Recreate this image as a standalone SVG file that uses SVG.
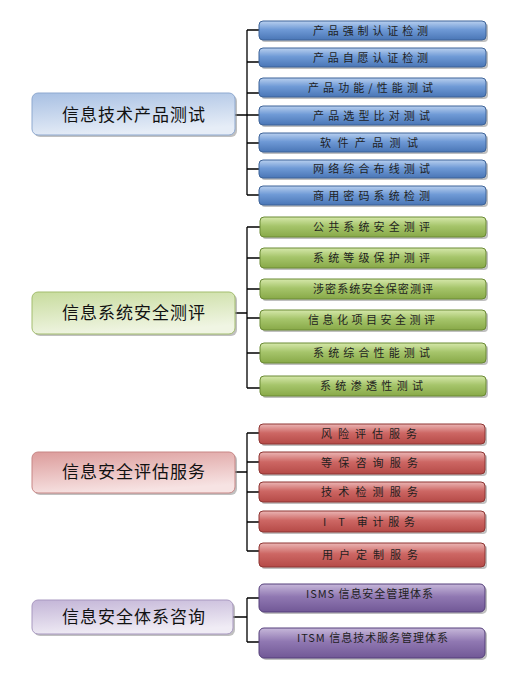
<svg xmlns="http://www.w3.org/2000/svg" width="530" height="675" viewBox="0 0 530 675">
<defs>
<linearGradient id="gB" x1="0" y1="0" x2="0" y2="1"><stop offset="0" stop-color="#b9d0ef"/><stop offset="0.45" stop-color="#6f9ad6"/><stop offset="1" stop-color="#4a76b6"/></linearGradient>
<linearGradient id="gG" x1="0" y1="0" x2="0" y2="1"><stop offset="0" stop-color="#d6e8ab"/><stop offset="0.45" stop-color="#a6c56b"/><stop offset="1" stop-color="#88a948"/></linearGradient>
<linearGradient id="gR" x1="0" y1="0" x2="0" y2="1"><stop offset="0" stop-color="#ebb6b5"/><stop offset="0.45" stop-color="#cd6764"/><stop offset="1" stop-color="#b54a47"/></linearGradient>
<linearGradient id="gP" x1="0" y1="0" x2="0" y2="1"><stop offset="0" stop-color="#c7b8da"/><stop offset="0.45" stop-color="#9078b2"/><stop offset="1" stop-color="#715896"/></linearGradient>
<linearGradient id="mB" x1="0" y1="0" x2="0.3" y2="1"><stop offset="0" stop-color="#a8c0e3"/><stop offset="1" stop-color="#e6edf7"/></linearGradient>
<linearGradient id="mG" x1="0" y1="0" x2="0.3" y2="1"><stop offset="0" stop-color="#c8dc9e"/><stop offset="1" stop-color="#f0f5e3"/></linearGradient>
<linearGradient id="mR" x1="0" y1="0" x2="0.3" y2="1"><stop offset="0" stop-color="#dc9c9b"/><stop offset="1" stop-color="#f7e3e3"/></linearGradient>
<linearGradient id="mP" x1="0" y1="0" x2="0.3" y2="1"><stop offset="0" stop-color="#c3b5d7"/><stop offset="1" stop-color="#f0ecf5"/></linearGradient>
</defs>
<style>
.sh{fill:#8c8c8c;opacity:0.55}
.sub{stroke-width:1}
.b{fill:url(#gB);stroke:#3d6398}
.g{fill:url(#gG);stroke:#6a8a34}
.r{fill:url(#gR);stroke:#8e3532}
.p{fill:url(#gP);stroke:#553f7a}
.mb{fill:url(#mB);stroke:#8ea9d0}
.mg{fill:url(#mG);stroke:#a3bd6e}
.mr{fill:url(#mR);stroke:#c88685}
.mp{fill:url(#mP);stroke:#a898c0}
.st{font-family:"Noto Sans CJK SC","Liberation Sans",sans-serif;font-size:11px;fill:#1e1e1e}
.mt{font-family:"Noto Sans CJK SC",sans-serif;font-size:17px;fill:#111}
.ln{stroke:#000;stroke-width:1.3;fill:none}
</style>

<g id="connectors">
<path class="ln" d="M235 115H247M247 30V195M247 30H259M247 62H259M247 93H259M247 115H259M247 143H259M247 169H259M247 195H259"/>
<path class="ln" d="M235 313H247M247 227V388M247 227H260M247 258H260M247 289H260M247 318H260M247 353H260M247 388H260"/>
<path class="ln" d="M235 472H247M247 433V551M247 433H259M247 462H259M247 492H259M247 522H259M247 551H259"/>
<path class="ln" d="M233 617H247M247 598V642M247 598H259M247 642H259"/>
</g>

<g id="main1"><rect class="sh" x="34" y="95" width="203" height="42" rx="6"/><rect class="mb" x="32" y="93" width="203" height="42" rx="6"/><text class="mt" x="62" y="121" textLength="143" lengthAdjust="spacing">信息技术产品测试</text></g>
<g id="main2"><rect class="sh" x="34" y="294" width="203" height="42" rx="6"/><rect class="mg" x="32" y="292" width="203" height="42" rx="6"/><text class="mt" x="62" y="319" textLength="143" lengthAdjust="spacing">信息系统安全测评</text></g>
<g id="main3"><rect class="sh" x="34" y="454" width="203" height="41" rx="6"/><rect class="mr" x="32" y="452" width="203" height="41" rx="6"/><text class="mt" x="62" y="478" textLength="143" lengthAdjust="spacing">信息安全评估服务</text></g>
<g id="main4"><rect class="sh" x="34" y="602" width="201" height="34" rx="6"/><rect class="mp" x="32" y="600" width="201" height="34" rx="6"/><text class="mt" x="62" y="623" textLength="143" lengthAdjust="spacing">信息安全体系咨询</text></g>

<g id="b1"><rect class="sh" x="261" y="23" width="227" height="19" rx="4"/><rect class="b" x="259" y="21" width="227" height="19" rx="4"/><text class="st" x="313" y="34.5" textLength="115" lengthAdjust="spacing">产品强制认证检测</text></g>
<g id="b2"><rect class="sh" x="261" y="50" width="227" height="19" rx="4"/><rect class="b" x="259" y="48" width="227" height="19" rx="4"/><text class="st" x="313" y="61.5" textLength="115" lengthAdjust="spacing">产品自愿认证检测</text></g>
<g id="b3"><rect class="sh" x="261" y="80" width="227" height="19" rx="4"/><rect class="b" x="259" y="78" width="227" height="19" rx="4"/><text class="st" x="308" y="91.5" textLength="125" lengthAdjust="spacing">产品功能/性能测试</text></g>
<g id="b4"><rect class="sh" x="261" y="108" width="227" height="19" rx="4"/><rect class="b" x="259" y="106" width="227" height="19" rx="4"/><text class="st" x="313" y="119.5" textLength="117" lengthAdjust="spacing">产品选型比对测试</text></g>
<g id="b5"><rect class="sh" x="261" y="135" width="227" height="19" rx="4"/><rect class="b" x="259" y="133" width="227" height="19" rx="4"/><text class="st" x="320" y="146.5" textLength="98" lengthAdjust="spacing">软件产品测试</text></g>
<g id="b6"><rect class="sh" x="261" y="162" width="227" height="18" rx="4"/><rect class="b" x="259" y="160" width="227" height="18" rx="4"/><text class="st" x="313" y="173" textLength="117" lengthAdjust="spacing">网络综合布线测试</text></g>
<g id="b7"><rect class="sh" x="261" y="188" width="227" height="19" rx="4"/><rect class="b" x="259" y="186" width="227" height="19" rx="4"/><text class="st" x="313" y="199.5" textLength="117" lengthAdjust="spacing">商用密码系统检测</text></g>

<g id="g1"><rect class="sh" x="262" y="219" width="226" height="20" rx="4"/><rect class="g" x="260" y="217" width="226" height="20" rx="4"/><text class="st" x="313" y="231" textLength="117" lengthAdjust="spacing">公共系统安全测评</text></g>
<g id="g2"><rect class="sh" x="262" y="250" width="226" height="20" rx="4"/><rect class="g" x="260" y="248" width="226" height="20" rx="4"/><text class="st" x="313" y="262" textLength="117" lengthAdjust="spacing">系统等级保护测评</text></g>
<g id="g3"><rect class="sh" x="262" y="281" width="226" height="20" rx="4"/><rect class="g" x="260" y="279" width="226" height="20" rx="4"/><text class="st" x="313" y="293" textLength="120" lengthAdjust="spacing">涉密系统安全保密测评</text></g>
<g id="g4"><rect class="sh" x="262" y="312" width="226" height="20" rx="4"/><rect class="g" x="260" y="310" width="226" height="20" rx="4"/><text class="st" x="308" y="324" textLength="127" lengthAdjust="spacing">信息化项目安全测评</text></g>
<g id="g5"><rect class="sh" x="262" y="345" width="226" height="20" rx="4"/><rect class="g" x="260" y="343" width="226" height="20" rx="4"/><text class="st" x="313" y="357" textLength="117" lengthAdjust="spacing">系统综合性能测试</text></g>
<g id="g6"><rect class="sh" x="262" y="378" width="226" height="20" rx="4"/><rect class="g" x="260" y="376" width="226" height="20" rx="4"/><text class="st" x="320" y="390" textLength="103" lengthAdjust="spacing">系统渗透性测试</text></g>

<g id="r1"><rect class="sh" x="261" y="426" width="226" height="20" rx="4"/><rect class="r" x="259" y="424" width="226" height="20" rx="4"/><text class="st" x="321" y="438" textLength="96" lengthAdjust="spacing">风险评估服务</text></g>
<g id="r2"><rect class="sh" x="261" y="454" width="226" height="22" rx="4"/><rect class="r" x="259" y="452" width="226" height="22" rx="4"/><text class="st" x="321" y="467" textLength="97" lengthAdjust="spacing">等保咨询服务</text></g>
<g id="r3"><rect class="sh" x="261" y="484" width="226" height="20" rx="4"/><rect class="r" x="259" y="482" width="226" height="20" rx="4"/><text class="st" x="321" y="496" textLength="97" lengthAdjust="spacing">技术检测服务</text></g>
<g id="r4"><rect class="sh" x="261" y="513" width="226" height="21" rx="4"/><rect class="r" x="259" y="511" width="226" height="21" rx="4"/><text class="st" x="323" y="525.5" textLength="92" lengthAdjust="spacing">I T 审计服务</text></g>
<g id="r5"><rect class="sh" x="261" y="545" width="226" height="24" rx="4"/><rect class="r" x="259" y="543" width="226" height="24" rx="4"/><text class="st" x="322" y="559" textLength="96" lengthAdjust="spacing">用户定制服务</text></g>

<g id="p1"><rect class="sh" x="261" y="586" width="226" height="28" rx="5"/><rect class="p" x="259" y="584" width="226" height="28" rx="5"/><text class="st" x="306" y="598" textLength="127" lengthAdjust="spacing">ISMS 信息安全管理体系</text></g>
<g id="p2"><rect class="sh" x="261" y="630" width="226" height="30" rx="5"/><rect class="p" x="259" y="628" width="226" height="30" rx="5"/><text class="st" x="297" y="642" textLength="151" lengthAdjust="spacing">ITSM 信息技术服务管理体系</text></g>
</svg>
